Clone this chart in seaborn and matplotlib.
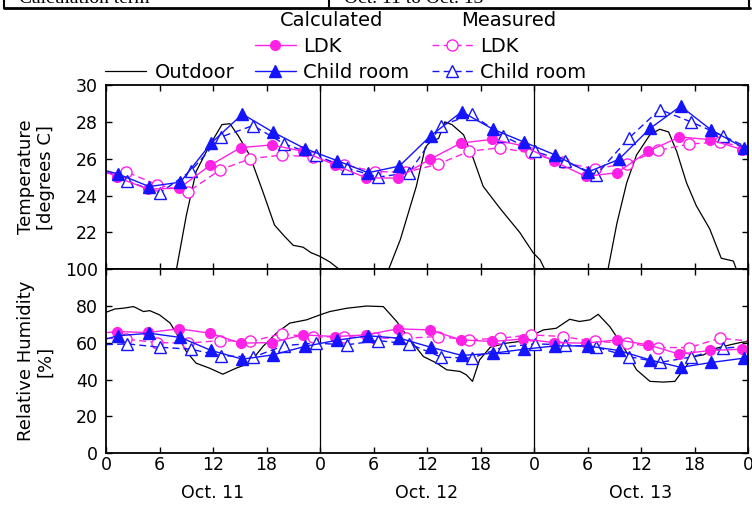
import matplotlib
matplotlib.use("Agg")
import matplotlib.pyplot as plt
import seaborn as sns
import pandas as pd
from matplotlib.lines import Line2D
from matplotlib.transforms import blended_transform_factory

# ---------------- data ----------------
hours_calc_ldk = [0, 1.2, 4.7, 8.2, 11.7, 15.1, 18.6, 22.1, 25.7, 29.2, 32.7, 36.3, 39.8,
                  43.3, 46.8, 50.2, 53.8, 57.3, 60.8, 64.3, 67.7, 71.3, 72]
hours_calc_child = [0, 1.3, 4.85, 8.35, 11.8, 15.3, 18.7, 22.3, 25.9, 29.4, 32.9, 36.4, 39.9,
                    43.4, 46.9, 50.4, 54.0, 57.5, 61.0, 64.45, 67.9, 71.5, 72]
hours_meas_ldk = [0, 2.2, 5.7, 9.2, 12.8, 16.2, 19.7, 23.2, 26.7, 30.2, 33.7, 37.2, 40.7,
                  44.2, 47.7, 51.2, 54.8, 58.4, 61.9, 65.4, 68.9, 72]
hours_meas_child = [0, 2.4, 6.0, 9.5, 12.9, 16.5, 20.0, 23.5, 27.0, 30.5, 34.0, 37.6, 41.0,
                    44.5, 48.1, 51.5, 55.0, 58.6, 62.1, 65.6, 69.2, 72]

temp_calc_ldk = [25.3, 25.0, 24.35, 24.4, 25.65, 26.6, 26.75, 26.4, 25.65, 24.96, 24.95, 25.96,
                 26.85, 27.05, 26.7, 25.87, 25.04, 25.24, 26.4, 27.18, 27.04, 26.5, 26.45]
temp_calc_child = [25.35, 25.18, 24.49, 24.73, 26.85, 28.42, 27.45, 26.55, 25.9, 25.24, 25.6,
                   27.24, 28.55, 27.6, 26.9, 26.2, 25.27, 25.96, 27.64, 28.85, 27.55, 26.6, 26.5]
temp_meas_ldk = [25.2, 25.3, 24.6, 24.2, 25.4, 26.0, 26.2, 26.1, 25.67, 25.3, 25.27, 25.7,
                 26.4, 26.6, 26.3, 25.8, 25.45, 25.73, 26.45, 26.8, 26.9, 26.6]
temp_meas_child = [25.3, 24.8, 24.13, 25.33, 27.18, 27.8, 26.8, 26.2, 25.5, 25.0, 25.24, 27.8,
                   28.4, 27.24, 26.4, 25.85, 25.13, 27.1, 28.67, 28.0, 27.24, 26.6]

hours_out_temp = [7.7, 7.9, 9.0, 10.1, 11.6, 13.0, 13.9, 14.8, 16.1, 17.6, 18.9, 20.0, 21.0,
                  22.1, 23.0, 24.0, 25.1, 26.05, 26.5,
                  31.5, 31.7, 33.0, 34.8, 35.8, 36.3, 37.3, 38.0, 38.8, 40.1, 41.2, 42.3,
                  44.2, 46.4, 47.9, 48.7, 49.2, 49.5,
                  56.1, 56.3, 57.3, 58.4, 59.5, 61.0, 62.1, 63.1, 64.0, 65.1, 66.2, 67.7,
                  69.0, 70.35, 70.7, 71.0]
temp_out = [19.5, 20.0, 22.9, 25.3, 26.7, 27.85, 27.9, 27.27, 26.2, 24.2, 22.4, 21.8, 21.3,
            21.2, 20.9, 20.7, 20.4, 20.04, 19.5,
            19.5, 20.0, 21.6, 24.5, 26.6, 26.9, 27.1, 28.0, 27.85, 27.3, 26.0, 24.5,
            23.3, 22.0, 20.9, 20.5, 20.0, 19.5,
            19.5, 20.0, 22.5, 24.7, 26.2, 27.3, 27.6, 27.45, 26.4, 24.7, 23.45, 22.2,
            20.6, 20.45, 20.0, 19.5]

rh_calc_ldk = [65.5, 66.1, 65.6, 67.6, 65.2, 59.8, 60.1, 64.3, 63.4, 64.3, 67.6, 67.0, 61.6,
               60.7, 62.1, 60.1, 59.8, 61.6, 58.9, 53.8, 55.8, 56.5, 56.8]
rh_calc_child = [62.0, 63.8, 65.2, 62.9, 55.8, 51.1, 53.4, 58.0, 61.4, 63.8, 62.5, 57.6, 53.1,
                 54.3, 56.5, 58.3, 58.3, 55.8, 50.7, 46.6, 49.3, 51.6, 52.0]
rh_meas_ldk = [62.5, 62.0, 60.1, 59.8, 61.2, 60.7, 64.9, 63.0, 63.4, 62.5, 62.5, 63.4, 61.6,
               62.5, 64.3, 63.4, 60.7, 59.8, 57.4, 57.4, 62.5, 61.0]
rh_meas_child = [59.0, 59.4, 57.6, 56.5, 53.0, 52.2, 58.5, 59.8, 58.9, 61.2, 59.4, 52.2, 51.6,
                 57.6, 59.4, 58.9, 57.6, 52.5, 49.3, 52.2, 57.1, 58.0]

hours_out_rh = [0, 1.0, 1.9, 3.1, 4.2, 4.9, 6.0, 7.2, 8.1, 9.0, 10.1, 11.6, 13.1, 14.6, 16.1,
                17.6, 19.1, 20.6, 22.5, 24.0, 25.1, 27.0, 29.2, 31.1, 32.6, 34.1, 35.6, 37.1,
                38.2, 39.7, 40.4, 41.1, 41.9, 43.1, 44.9, 46.4, 47.9, 49.05, 50.5, 52.0, 53.1,
                54.3, 55.2, 56.5, 58.0, 59.5, 61.0, 62.5, 63.8, 64.75, 65.9, 67.0, 68.5, 70.0,
                71.1, 72.0]
rh_out = [76.6, 78.4, 78.8, 79.7, 77.0, 77.5, 75.2, 70.7, 63.4, 55.3, 48.9, 46.2, 42.9, 46.2,
          48.9, 58.0, 65.2, 70.7, 72.5, 75.2, 77.0, 78.8, 80.0, 79.7, 71.6, 61.6, 52.5, 48.9,
          45.3, 44.4, 42.6, 39.0, 50.7, 57.6, 59.8, 60.7, 64.3, 67.0, 67.9, 72.8, 71.6, 72.5,
          75.5, 68.8, 58.0, 45.3, 39.0, 38.6, 39.0, 45.3, 52.5, 53.4, 57.1, 58.9, 60.1, 60.7]

xtick_hours = [0, 6, 12, 18, 24, 30, 36, 42, 48, 54, 60, 66, 72]
xtick_labels = ["0", "6", "12", "18", "0", "6", "12", "18", "0", "6", "12", "18", "0"]
day_labels = ["Oct. 11", "Oct. 12", "Oct. 13"]
day_centers = [12, 36, 60]
day_bounds = [24, 48]
temp_ticks = [22, 24, 26, 28, 30]
rh_ticks = [0, 20, 40, 60, 80, 100]

# ---------------- style ----------------
sns.set_style("ticks")
plt.rcParams["font.family"] = ["DejaVu Sans"]
plt.rcParams["text.color"] = "black"
plt.rcParams["axes.labelcolor"] = "black"
plt.rcParams["xtick.color"] = "black"
plt.rcParams["ytick.color"] = "black"
plt.rcParams["legend.labelcolor"] = "black"

PINK = "#ff22e6"
BLUE = "#1414ff"

W, H = 752, 505
fig = plt.figure(figsize=(W / 100, H / 100), dpi=100)


def fx(px):
    return px / W


def fy(py):
    return 1 - py / H


x0, x1 = 106, 748
yt0, ymid, yb = 85, 269.3, 453
ax_t = fig.add_axes([fx(x0), fy(ymid), fx(x1) - fx(x0), fy(yt0) - fy(ymid)])
ax_h = fig.add_axes([fx(x0), fy(yb), fx(x1) - fx(x0), fy(ymid) - fy(yb)])

styles = {
    "calc_ldk": dict(color=PINK, linestyle="-", marker="o", markersize=7,
                     markerfacecolor=PINK, markeredgecolor=PINK, markeredgewidth=1),
    "calc_child": dict(color=BLUE, linestyle="-", marker="^", markersize=8.5,
                       markerfacecolor=BLUE, markeredgecolor=BLUE, markeredgewidth=1),
    "meas_ldk": dict(color=PINK, linestyle=(0, (5, 3)), marker="o", markersize=8,
                     markerfacecolor="white", markeredgecolor=PINK, markeredgewidth=1),
    "meas_child": dict(color=BLUE, linestyle=(0, (5, 3)), marker="^", markersize=9,
                       markerfacecolor="white", markeredgecolor=BLUE, markeredgewidth=1),
}


def draw(ax, hrs, vals, key):
    n = len(hrs)
    sns.lineplot(x=hrs, y=vals, ax=ax, errorbar=None, sort=False, lw=1.0,
                 markevery=list(range(1, n - 1)), **styles[key])


for ax, (o_h, o_v), series in [
    (ax_t, (hours_out_temp, temp_out),
     [(hours_meas_ldk, temp_meas_ldk, "meas_ldk"), (hours_meas_child, temp_meas_child, "meas_child"),
      (hours_calc_ldk, temp_calc_ldk, "calc_ldk"), (hours_calc_child, temp_calc_child, "calc_child")]),
    (ax_h, (hours_out_rh, rh_out),
     [(hours_meas_ldk, rh_meas_ldk, "meas_ldk"), (hours_meas_child, rh_meas_child, "meas_child"),
      (hours_calc_ldk, rh_calc_ldk, "calc_ldk"), (hours_calc_child, rh_calc_child, "calc_child")]),
]:
    sns.lineplot(x=o_h, y=o_v, ax=ax, errorbar=None, sort=False, color="black", lw=0.9)
    for hrs, vals, key in series:
        draw(ax, hrs, vals, key)
    for b in day_bounds:
        ax.axvline(b, color="black", lw=0.9, zorder=1)
    ax.set_xlim(0, 72)
    ax.set_xticks(xtick_hours)
    ax.tick_params(direction="in", top=True, right=True, length=4, width=1,
                   labelsize=12.5, pad=6, colors="black")
    for sp in ax.spines.values():
        sp.set_linewidth(1.3)
        sp.set_color("black")
    ax.set_xlabel("")
    ax.set_facecolor("white")

ax_t.set_ylim(20, 30)
ax_t.set_yticks(temp_ticks)
ax_t.set_xticklabels([])
ax_t.set_ylabel("Temperature\n[degrees C]", fontsize=13, linespacing=1.15, color="black")

ax_h.set_ylim(0, 100)
ax_h.set_yticks(rh_ticks)
ax_h.set_xticklabels(xtick_labels)
ax_h.tick_params(axis="x", pad=2)
ax_h.set_ylabel("Relative Humidity\n[%]", fontsize=13, linespacing=1.15, color="black")

for ax in (ax_t, ax_h):
    ax.yaxis.set_label_coords(-0.08, 0.5)

trans = blended_transform_factory(ax_h.transData, ax_h.transAxes)
for lab, c in zip(day_labels, day_centers):
    ax_h.text(c, -0.22, lab, transform=trans, ha="center", va="center", fontsize=12.5,
              color="black")

# ---------------- legends ----------------
def handle(key):
    st = dict(styles[key])
    return Line2D([], [], lw=1.0, **st)


leg_kw = dict(frameon=False, fontsize=14, title_fontsize=14, handlelength=2.1,
              handletextpad=0.35, labelspacing=0.36, borderpad=0, borderaxespad=0,
              bbox_transform=fig.transFigure, loc="upper left")
leg_c = ax_t.legend([handle("calc_ldk"), handle("calc_child")], ["LDK", "Child room"],
                    title="Calculated", bbox_to_anchor=(fx(255), fy(11)), **leg_kw)
leg_c.get_title().set_color("black")
ax_t.add_artist(leg_c)
leg_m = ax_t.legend([handle("meas_ldk"), handle("meas_child")], ["LDK", "Child room"],
                    title="Measured", bbox_to_anchor=(fx(432), fy(11)), **leg_kw)
leg_m.get_title().set_color("black")
ax_t.add_artist(leg_m)
leg_o = ax_t.legend([Line2D([], [], color="black", lw=0.9)], ["Outdoor"],
                    frameon=False, fontsize=14, handlelength=2.1, handletextpad=0.45,
                    borderpad=0, borderaxespad=0, bbox_transform=fig.transFigure,
                    loc="center left", bbox_to_anchor=(fx(105), fy(72)))

# ---------------- cut-off table at top ----------------
fig.add_artist(Line2D([fx(4), fx(750)], [fy(7.5), fy(7.5)], transform=fig.transFigure,
                      color="black", lw=2))
for xv in (4, 329, 749):
    fig.add_artist(Line2D([fx(xv), fx(xv)], [fy(-2), fy(7.5)], transform=fig.transFigure,
                          color="black", lw=1.5))
fig.text(fx(19), fy(3), "Calculation term", family="Liberation Serif", fontsize=14,
         ha="left", va="baseline")
fig.text(fx(344), fy(3), "Oct. 11 to Oct. 13", family="Liberation Serif", fontsize=14,
         ha="left", va="baseline")

fig.savefig("out.png", dpi=100)
